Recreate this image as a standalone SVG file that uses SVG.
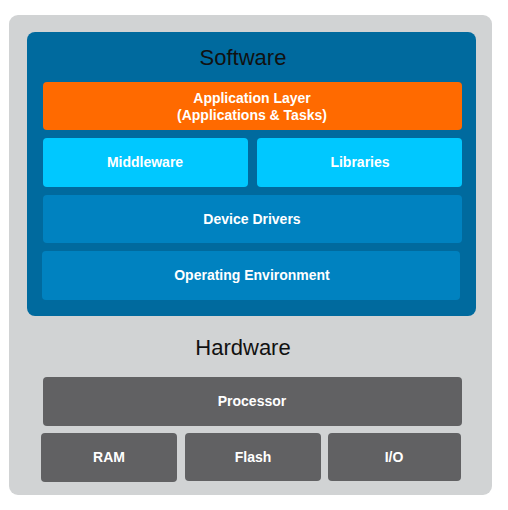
<svg xmlns="http://www.w3.org/2000/svg" width="508" height="510" viewBox="0 0 508 510">
<style>
.lbl{font-family:"Liberation Sans",Arial,sans-serif;font-size:14px;font-weight:bold;fill:#fff;text-anchor:middle}
.ttl{font-family:"Liberation Sans",Arial,sans-serif;font-size:22px;fill:#111;text-anchor:middle}
.hw{fill:#616163}
.mid{fill:#00c8ff}
.drv{fill:#0082c0}
</style>
<rect x="0" y="0" width="508" height="510" fill="#fff"/>
<g id="hardware">
<rect x="9" y="15" width="483" height="480" rx="9" fill="#d1d3d4"/>
<text class="ttl" x="243" y="355">Hardware</text>
</g>
<g id="software">
<rect x="27" y="32" width="449" height="284" rx="8" fill="#006a9e"/>
<text class="ttl" x="243" y="65">Software</text>
</g>
<g id="application-layer">
<rect x="43" y="82" width="419" height="48" rx="4" fill="#ff6a00"/>
<text class="lbl" x="252" y="103">Application Layer</text>
<text class="lbl" x="252" y="120">(Applications &amp; Tasks)</text>
</g>
<g id="middleware">
<rect class="mid" x="43" y="138" width="205" height="49" rx="4"/>
<text class="lbl" x="145" y="167">Middleware</text>
</g>
<g id="libraries">
<rect class="mid" x="257" y="138" width="205" height="49" rx="4"/>
<text class="lbl" x="360" y="167">Libraries</text>
</g>
<g id="device-drivers">
<rect class="drv" x="43" y="195" width="419" height="48" rx="4"/>
<text class="lbl" x="252" y="224">Device Drivers</text>
</g>
<g id="operating-environment">
<rect class="drv" x="42" y="251" width="418" height="49" rx="4"/>
<text class="lbl" x="252" y="280">Operating Environment</text>
</g>
<g id="processor">
<rect class="hw" x="43" y="377" width="419" height="49" rx="4"/>
<text class="lbl" x="252" y="406">Processor</text>
</g>
<g id="ram">
<rect class="hw" x="41" y="433" width="136" height="49" rx="4"/>
<text class="lbl" x="109" y="462">RAM</text>
</g>
<g id="flash">
<rect class="hw" x="185" y="433" width="136" height="48" rx="4"/>
<text class="lbl" x="253" y="462">Flash</text>
</g>
<g id="io">
<rect class="hw" x="328" y="433" width="133" height="48" rx="4"/>
<text class="lbl" x="394" y="462">I/O</text>
</g>
<g id="connectors"/>
</svg>
